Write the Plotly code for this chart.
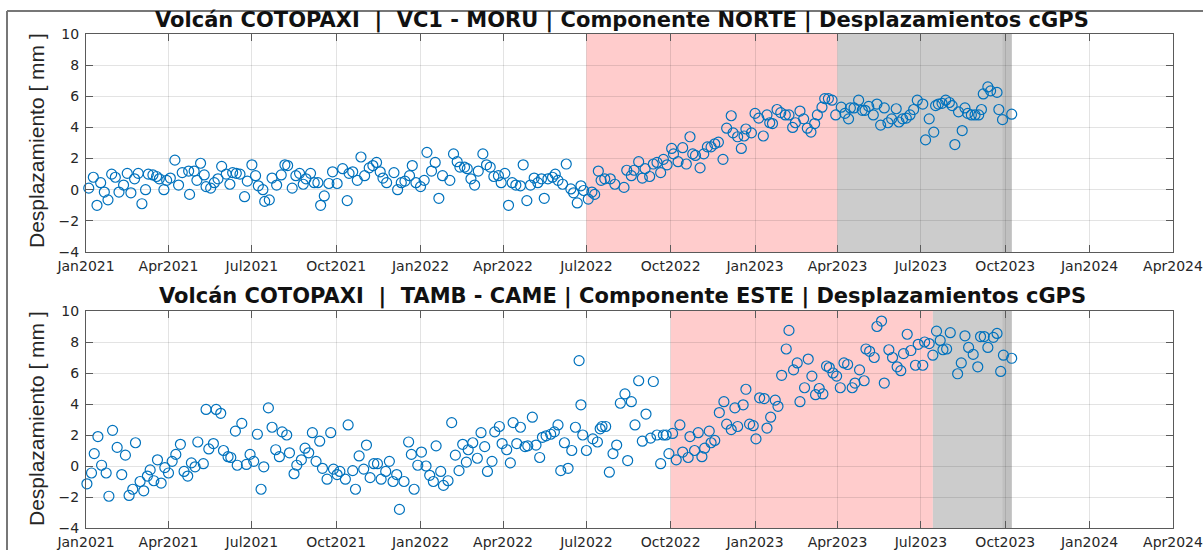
import pandas as pd
import plotly.graph_objects as go

# ---------------- DATA ----------------
# days since 2021-01-01, displacement in mm
norte_dias = [3, 8, 12, 16, 20, 24, 28, 32, 36, 41, 45, 49, 53, 57, 61, 65, 68, 73, 77, 80, 85, 88, 92, 97, 101,
              105, 112, 113, 118, 121, 125, 129, 131, 136, 140, 144, 148, 153, 157, 160, 164, 168, 173, 176, 181,
              185, 188, 193, 195, 200, 203, 208, 213, 217, 220, 225, 229, 233, 237, 240, 245, 249, 253, 256, 260,
              265, 269, 274, 280, 285, 287, 291, 296, 300, 304, 309, 313, 317, 321, 324, 328, 336, 340, 344, 348,
              353, 356, 360, 365, 369, 372, 377, 381, 385, 389, 397, 401, 405, 408, 413, 416, 420, 424, 428, 433,
              437, 441, 445, 450, 453, 457, 461, 465, 469, 474, 477, 481, 485, 489, 493, 497, 500, 504, 509, 512,
              515, 520, 524, 529, 532, 536, 540, 543, 548, 552, 555, 559, 562,
              566, 572, 577, 587, 590, 595, 598, 603, 607, 610, 615, 619, 623, 627, 630, 634, 639, 641, 646, 651,
              655, 659, 662, 665, 670, 674, 678, 682, 686, 690, 695, 699, 704, 706, 711, 715, 718, 720, 726, 730,
              734, 739, 743, 746, 749, 754, 758, 763, 767, 771, 774, 779, 783, 787, 791, 795, 798, 803, 806, 810,
              814, 818, 824, 828, 832, 834, 838, 843, 847, 850, 854, 859, 863, 867, 871, 875, 879, 884, 887, 891,
              895, 899, 903, 907, 913, 916, 920, 925, 927, 930, 934, 938, 942, 945, 948, 952, 956, 959, 962, 966,
              970, 974, 977, 979, 984, 987, 994, 996, 1000, 1010]
norte_mm = [0.1, 0.8, -1.0, 0.45, -0.15, -0.65, 1.0, 0.8, -0.15, 0.3, 1.05, -0.2, 0.7, 1.05, -0.9, 0.0, 1.0, 0.95,
            0.85, 0.7, 0.0, 0.6, 0.75, 1.9, 0.3,
            1.1, 1.2, -0.3, 1.2, 0.6, 1.7, 0.95, 0.2, 0.1, 0.45, 0.7, 1.5, 1.0, 0.35, 1.1, 1.05, 1.0, -0.45, 0.55, 1.6,
            0.9, 0.25, 0.0, -0.75, -0.65, 0.75, 0.3, 0.95, 1.6, 1.55, 0.1, 0.9, 1.05, 0.35, 0.7, 1.05, 0.45, 0.45,
            -1.0, -0.4,
            0.4, 1.15, 0.4, 1.35, -0.7, 1.05, 1.15, 0.6, 2.1, 0.9, 1.4, 1.55, 1.75, 1.15, 0.75, 0.45, 1.1, 0.0, 0.45,
            0.55,
            0.9, 1.55, 0.45, 0.2, 0.6, 2.4, 1.2, 1.75, -0.55, 0.9, 0.6, 2.3, 1.8, 1.45, 1.45, 1.35, 0.7, 0.3, 1.2, 2.3,
            1.6, 1.45, 0.85, 0.9, 0.45, 1.05, -1.0, 0.45, 0.3, 0.25, 1.6, -0.7, 0.3, 0.75, 0.45, 0.7, -0.55, 0.7, 0.8,
            1.0,
            0.6, 0.35, 1.65, 0.05, -0.2, -0.85, 0.25, -0.05, -0.6, -0.15, -0.3, 1.2, 0.6,
            0.7, 0.7, 0.35, 0.15, 1.25, 0.9, 1.25, 1.8, 0.75, 1.35, 0.85, 1.65, 1.75, 1.1, 1.95, 1.6, 2.65, 2.3, 1.8,
            2.7,
            1.65, 3.4, 2.3, 2.2, 1.4, 2.3, 2.75, 2.75, 2.95, 3.05, 1.95, 3.95, 4.75, 3.65, 3.4, 2.65, 3.45, 3.9, 3.65,
            4.9,
            4.6, 3.45, 4.8, 4.3, 4.25, 5.15, 4.95, 4.8, 4.8, 4.0, 4.3, 5.05, 4.55, 3.95, 3.7, 4.25, 4.8, 5.3, 5.85,
            5.85,
            5.75, 4.8, 5.3, 4.9, 4.55, 5.25, 5.25, 5.75, 5.1, 5.1, 5.35, 4.8, 5.5, 4.15, 5.25, 4.3, 4.55, 5.2, 4.35,
            4.55,
            4.6, 4.8, 5.15, 5.75, 5.5, 3.2, 4.55, 3.7, 5.4, 5.5, 5.55, 5.75, 5.6, 5.4, 2.9, 5.0, 3.8, 5.25, 4.9, 4.8,
            4.8, 4.8, 5.15, 6.15, 6.6, 6.35, 6.25, 5.15, 4.5, 4.85]

este_dias = [1, 6, 9, 13, 17, 22, 25, 29, 34, 39, 43, 47, 51, 54, 59, 63, 67, 70, 74, 78, 82, 86, 90, 94, 98,
             103, 107, 111, 115, 119, 122, 128, 131, 134, 139, 142, 147, 150, 155, 158, 163, 165, 170, 175, 179,
             183, 187, 191, 194, 199, 203, 207, 211, 214, 219, 222, 227, 230, 235, 239, 243, 247, 251, 255, 258,
             263, 267, 270, 274, 277, 283, 286, 291, 294, 298, 303, 306, 310, 314, 318, 322, 327, 331, 335, 339,
             342, 347, 352, 355, 358, 362, 366, 371, 375, 379, 382, 387, 390, 395, 399, 403, 407, 411, 415, 417,
             422, 427, 431, 435, 438, 443, 446, 451, 454, 459, 463, 466, 470, 474, 479, 482, 487, 491, 495, 498,
             502, 507, 511, 515, 518, 522, 526, 530, 534, 538, 540, 542, 546, 553, 558, 561, 563, 567,
             571, 575, 579, 583, 588, 591, 595, 599, 603, 607, 611, 616, 619, 623, 627, 630, 633, 636, 640, 644,
             648, 651, 657, 659, 664, 668, 672, 675, 680, 682, 686, 691, 696, 699, 704, 708, 711, 717, 720, 724,
             728, 731, 735, 740, 743, 747, 752, 755, 759, 764, 767, 772, 776, 779, 784, 788, 792, 796, 800, 804,
             808, 811, 815, 819, 823, 827, 831, 836, 839, 844, 849, 851, 855, 860, 863, 868, 871, 876, 880, 885,
             889, 892, 896, 900, 905, 908, 913, 915, 920, 924, 928, 932, 935, 939, 943, 951, 955, 959, 963, 968,
             973, 976, 980, 984, 990, 994, 998, 1001, 1010]
este_mm = [-1.15, -0.45, 0.8, 1.9, 0.05, -0.45, -1.95, 2.3, 1.2, -0.55, 0.7, -1.9, -1.5, 1.5, -1.0, -1.6, -0.65,
           -0.25, -0.95, 0.4, -1.1, -0.1, -0.45, 0.3, 0.75,
           1.4, -0.35, -0.65, 0.2, -0.05, 1.55, 0.15, 3.65, 1.1, 1.45, 3.65, 3.4, 1.0, 0.6, 0.55, 2.25, 0.05, 2.75,
           0.1, 0.75,
           0.3, 2.05, -1.5, -0.05, 3.75, 2.5, 1.05, 0.6, 2.2, 2.0, 0.85, -0.5, 0.05, 0.4, 1.15, 0.85, 2.15, 0.3, 1.6,
           -0.15,
           -0.85, 2.15, -0.2, -0.55, -0.35, -0.85, 2.65, -0.3, -1.5, 0.65, -0.2, 1.35, -0.75, 0.15, 0.15, -0.85,
           -0.35, 0.3, -1.0, -0.55,
           -2.8, -1.0, 1.55, 0.75, -1.5, 0.05, 0.9, 0.0, -0.6, -1.0, 1.3, -0.35, -1.25, -0.95, 2.8, 0.7, -0.3, 1.4,
           0.25, 1.05,
           1.5, 0.5, 2.15, 1.25, -0.35, 0.3, 2.2, 2.55, 1.45, 1.05, 0.2, 2.8, 1.45, 2.5, 1.25, 1.3, 3.15, 1.35, 0.55,
           1.85,
           1.95, 2.05, 2.2, 2.65, -0.3, 1.5, -0.15, 1.0, 2.5, 6.8, 3.95, 2.0, 1.0, 1.75, 1.55, 2.4, 2.55, 2.55,
           -0.4, 0.8, 1.35, 4.05, 4.65, 0.35, 4.15, 2.65, 5.5, 1.6, 3.35, 1.8, 5.45, 2.0, 0.15, 2.0, 2.0, 0.8, 2.1,
           0.4,
           2.65, 0.9, 0.55, 1.9, 1.0, 2.15, 0.6, 1.15, 2.25, 1.5, 1.65, 3.45, 4.15, 2.7, 2.35, 3.75, 2.55, 3.95, 4.95,
           2.7,
           2.6, 1.75, 4.4, 4.35, 2.45, 3.15, 4.25, 3.85, 5.85, 7.55, 8.75, 6.2, 6.65, 4.15, 5.05, 6.9, 5.8, 4.6, 5.0,
           4.65,
           6.45, 6.35, 6.0, 5.8, 5.05, 6.65, 6.55, 5.05, 5.35, 6.2, 5.5, 7.55, 7.4, 7.0, 9.0, 9.35, 5.35, 7.5, 7.0,
           6.4,
           6.15, 7.25, 8.5, 7.45, 6.5, 7.85, 6.5, 8.0, 7.9, 7.15, 8.7, 8.1, 7.5, 7.55, 8.6, 5.95, 6.65, 8.4, 7.65,
           7.2,
           6.4, 8.35, 8.35, 7.65, 8.3, 8.55, 6.1, 7.15, 6.95]

tick_fechas = ["2021-01-01", "2021-04-01", "2021-07-01", "2021-10-01", "2022-01-01", "2022-04-01",
               "2022-07-01", "2022-10-01", "2023-01-01", "2023-04-01", "2023-07-01", "2023-10-01",
               "2024-01-01", "2024-04-01"]
tick_textos = ["Jan2021", "Apr2021", "Jul2021", "Oct2021", "Jan2022", "Apr2022", "Jul2022", "Oct2022",
               "Jan2023", "Apr2023", "Jul2023", "Oct2023", "Jan2024", "Apr2024"]

# shaded periods (start, end)
norte_rosa = ("2022-07-01", "2023-04-01")
norte_gris = ("2023-04-01", "2023-10-08")
este_rosa = ("2022-10-01", "2023-07-14")
este_gris = ("2023-07-14", "2023-10-08")
gris_oscuro = ("2023-09-28", "2023-10-08")

titulos = ["Volcán COTOPAXI  |  VC1 - MORU | Componente NORTE | Desplazamientos cGPS",
           "Volcán COTOPAXI  |  TAMB - CAME | Componente ESTE | Desplazamientos cGPS"]
ytitulo = "Desplazamiento [ mm ]"

# ---------------- FIGURE ----------------
base = pd.Timestamp("2021-01-01")
norte_x = base + pd.to_timedelta(norte_dias, unit="D")
este_x = base + pd.to_timedelta(este_dias, unit="D")

W, H = 1203, 550
xdom = [86 / W, 1173 / W]
ydom_top = [1 - 252 / H, 1 - 34 / H]
ydom_bot = [1 - 528 / H, 1 - 311 / H]

BLUE = "#0072BD"
fig = go.Figure()
for xs, ys, xa, ya in [(norte_x, norte_mm, "x", "y"), (este_x, este_mm, "x2", "y2")]:
    fig.add_trace(go.Scatter(
        x=xs, y=ys, mode="markers", xaxis=xa, yaxis=ya, showlegend=False, cliponaxis=False,
        marker=dict(symbol="circle-open", size=10, color=BLUE, line=dict(width=1.2, color=BLUE)),
    ))

tickfont = dict(family="DejaVu Sans", size=14, color="#262626")
axis_common = dict(showgrid=True, gridcolor="rgba(38,38,38,0.13)", gridwidth=1, zeroline=False,
                   showline=True, linecolor="#5a5a5a", linewidth=1, mirror="ticks", automargin=False,
                   ticks="inside", ticklen=7, tickcolor="#5a5a5a", tickwidth=1, tickfont=tickfont,
                   ticklabeloverflow="allow")

xcommon = dict(type="date", range=[tick_fechas[0], tick_fechas[-1]], tickmode="array",
               tickvals=tick_fechas, ticktext=tick_textos, domain=xdom, ticklabelstandoff=1, **axis_common)
ycommon = dict(range=[-4, 10], tickmode="array", tickvals=[-4, -2, 0, 2, 4, 6, 8, 10],
               ticklabelstandoff=3, **axis_common)

fig.update_layout(
    width=W, height=H, margin=dict(l=0, r=0, t=0, b=0, autoexpand=False),
    paper_bgcolor="white", plot_bgcolor="white",
    xaxis=dict(anchor="y", **xcommon),
    yaxis=dict(anchor="x", domain=ydom_top, **ycommon),
    xaxis2=dict(anchor="y2", **xcommon),
    yaxis2=dict(anchor="x2", domain=ydom_bot, **ycommon),
)

PINK = "rgb(255,204,204)"
GRAY = "rgb(204,204,204)"
GRAY2 = "rgb(192,192,192)"
for xr, yr, periods in [("x", "y domain", [(norte_rosa, PINK), (norte_gris, GRAY), (gris_oscuro, GRAY2)]),
                        ("x2", "y2 domain", [(este_rosa, PINK), (este_gris, GRAY), (gris_oscuro, GRAY2)])]:
    for (a, b), col in periods:
        fig.add_shape(type="rect", xref=xr, yref=yr, x0=a, x1=b, y0=0, y1=1,
                      fillcolor=col, line=dict(width=0), layer="below")

# titles
for txt, yc in zip(titulos, [20, 296]):
    fig.add_annotation(text="<b>" + txt + "</b>", xref="paper", yref="paper", x=622 / W, y=1 - yc / H,
                       xanchor="center", yanchor="middle", showarrow=False,
                       font=dict(family="DejaVu Sans", size=21, color="#111111"))
# y-axis titles
for yc in [141, 419]:
    fig.add_annotation(text=ytitulo, xref="paper", yref="paper", x=36 / W, y=1 - yc / H,
                       xanchor="center", yanchor="middle", showarrow=False, textangle=-90,
                       font=dict(family="Liberation Sans", size=21, color="#262626"))

# outer frame of the picture
fig.add_shape(type="line", xref="paper", yref="paper", x0=7 / W, x1=1, y0=1 - 11 / H, y1=1 - 11 / H,
              line=dict(color="#777777", width=2))
fig.add_shape(type="line", xref="paper", yref="paper", x0=7 / W, x1=7 / W, y0=0, y1=1 - 11 / H,
              line=dict(color="#777777", width=2))

fig.write_html("out.html", config={"displayModeBar": False},
               post_script="document.body.style.margin='0px'; document.body.style.overflow='hidden';")
